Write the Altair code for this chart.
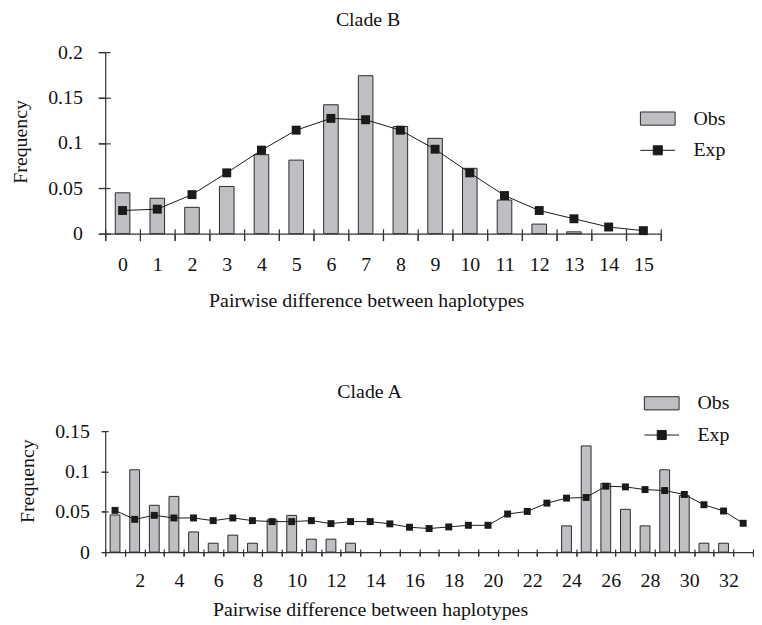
import altair as alt
import pandas as pd

# ---- Clade B ----
b_diff = list(range(16))
b_obs = [0.045, 0.039, 0.029, 0.052, 0.087, 0.081, 0.142, 0.174, 0.118, 0.105,
         0.072, 0.037, 0.0105, 0.002, 0.0, 0.0]
b_exp = [0.0255, 0.027, 0.043, 0.067, 0.092, 0.114, 0.127, 0.1255, 0.114, 0.093,
         0.067, 0.042, 0.0255, 0.0164, 0.0073, 0.0033]

# ---- Clade A ----
a_diff = list(range(1, 34))
a_obs = [0.046, 0.102, 0.058, 0.069, 0.025, 0.011, 0.021, 0.011, 0.040, 0.0455,
         0.016, 0.016, 0.011, 0, 0, 0, 0, 0, 0, 0,
         0, 0, 0, 0.0325, 0.1316, 0.085, 0.053, 0.0325, 0.102, 0.070,
         0.011, 0.011, 0]
a_exp = [0.0517, 0.0406, 0.0455, 0.0423, 0.0423, 0.039, 0.0423, 0.039, 0.0378, 0.0378,
         0.039, 0.0353, 0.0378, 0.0378, 0.035, 0.0308, 0.0292, 0.0312, 0.0332, 0.0332,
         0.0472, 0.0504, 0.0607, 0.0669, 0.0677, 0.0817, 0.0808, 0.0775, 0.0763, 0.0714,
         0.0587, 0.0509, 0.0357]

FONT = "Liberation Serif"
BAR_FILL = "#bfbfc3"
BAR_STROKE = "#2b2b2b"
INK = "#1a1a1a"
XTITLE = "Pairwise difference between haplotypes"

RECT_PATH = "M-1,-0.38H1V0.38H-1Z"
LINE_PATH = "M-1,0H1M-0.26,-0.26H0.26V0.26H-0.26Z"


def clade_chart(diff, obs, exp, title, width, height, ymax, yvals, marker,
                bar_band, tick_out, tick_in, lab_pad, title_pad, label_expr,
                label_offset, xlab_pad, xtitle_pad, title_dx, title_off, title_x, title_y,
                leg_x, leg_y_obs, leg_y_exp):
    df = pd.DataFrame({"diff": diff, "obs": obs, "exp": exp})
    base = alt.Chart(df)
    xscale = alt.Scale(paddingInner=0, paddingOuter=0)
    yscale = alt.Scale(domain=[0, ymax], nice=False)

    x_main = alt.Axis(title=XTITLE, tickBand="extent", tickExtra=True, tickSize=tick_out,
                      labelAngle=0, labelPadding=xlab_pad, labelExpr=label_expr,
                      labelOffset=label_offset, titleX=title_x, titlePadding=xtitle_pad,
                      orient="bottom")
    y_main = alt.Axis(title="Frequency", values=yvals,
                      labelExpr="'' + datum.value", tickSize=tick_out,
                      labelPadding=lab_pad, titlePadding=title_pad, titleY=title_y,
                      orient="left")
    x_cross = alt.Axis(title=None, labels=False, domain=False, tickBand="extent",
                       tickExtra=True, tickSize=tick_out + tick_in, offset=-tick_in,
                       orient="bottom")
    y_cross = alt.Axis(title=None, labels=False, domain=False, values=yvals,
                       tickSize=tick_out + tick_in, offset=-tick_in, orient="left")

    leg_common = dict(title=None, orient="none", legendX=leg_x, symbolSize=1225,
                      labelFont=FONT, labelFontSize=20, labelColor="#111",
                      labelOffset=18, padding=0)

    bars = base.transform_filter("datum.obs > 0").transform_calculate(
        s="'Obs'"
    ).mark_bar(stroke=BAR_STROKE, strokeWidth=1, width={"band": bar_band}).encode(
        x=alt.X("diff:O", scale=xscale, axis=x_main),
        y=alt.Y("obs:Q", scale=yscale, axis=y_main),
        fill=alt.Fill("s:N", scale=alt.Scale(domain=["Obs"], range=[BAR_FILL]),
                      legend=alt.Legend(legendY=leg_y_obs, symbolType=RECT_PATH,
                                        symbolStrokeColor=BAR_STROKE, symbolStrokeWidth=1,
                                        symbolFillColor=BAR_FILL, **leg_common)),
    )
    line = base.transform_calculate(s="'Exp'").mark_line(strokeWidth=1).encode(
        x=alt.X("diff:O", scale=xscale, axis=x_cross),
        y=alt.Y("exp:Q", scale=yscale, axis=y_cross),
        stroke=alt.Stroke("s:N", scale=alt.Scale(domain=["Exp"], range=[INK]),
                          legend=alt.Legend(legendY=leg_y_exp, symbolType=LINE_PATH,
                                            symbolStrokeColor=INK, symbolStrokeWidth=1,
                                            symbolFillColor=INK, **leg_common)),
    )
    pts = base.mark_square(size=marker, color=INK, opacity=1).encode(
        x=alt.X("diff:O", scale=xscale, axis=None),
        y=alt.Y("exp:Q", scale=yscale, axis=None),
    )
    return alt.layer(bars, line, pts).resolve_axis(x="independent", y="independent").properties(
        width=width, height=height,
        title=alt.TitleParams(title, font=FONT, fontSize=20, fontWeight="normal",
                              color="#111", offset=title_off, dx=title_dx, frame="group"),
    )


top = clade_chart(b_diff, b_obs, b_exp, "Clade B", 560, 183, 0.2,
                  [0, 0.05, 0.1, 0.15, 0.2], 81, 0.42, 7, 5, 16, 17,
                  "datum.label", 0, 14, 16, -15, 12, 263, 90, 539, 49, 81)
bottom = clade_chart(a_diff, a_obs, a_exp, "Clade A", 653, 122, 0.15,
                     [0, 0.05, 0.1, 0.15], 49, 0.5, 4, 3, 12, 17,
                     "datum.value % 2 == 0 ? datum.label : ''", 5, 15, 9, -60, -17, 267, 50,
                     543, -46, -14)

chart = alt.vconcat(top, bottom, spacing=73).resolve_scale(
    fill="independent", stroke="independent"
).resolve_legend(fill="independent", stroke="independent").properties(
    padding={"left": 3, "top": 0, "right": 0, "bottom": 0}
).configure_view(stroke=None).configure_axis(
    labelFont=FONT, titleFont=FONT, labelFontSize=20, titleFontSize=20,
    titleFontWeight="normal", labelColor="#111", titleColor="#111",
    domainColor="#333", tickColor="#333", domainWidth=1.2, tickWidth=1.2, grid=False,
)

chart.save("out.html", embed_options={"renderer": "svg", "actions": False})
